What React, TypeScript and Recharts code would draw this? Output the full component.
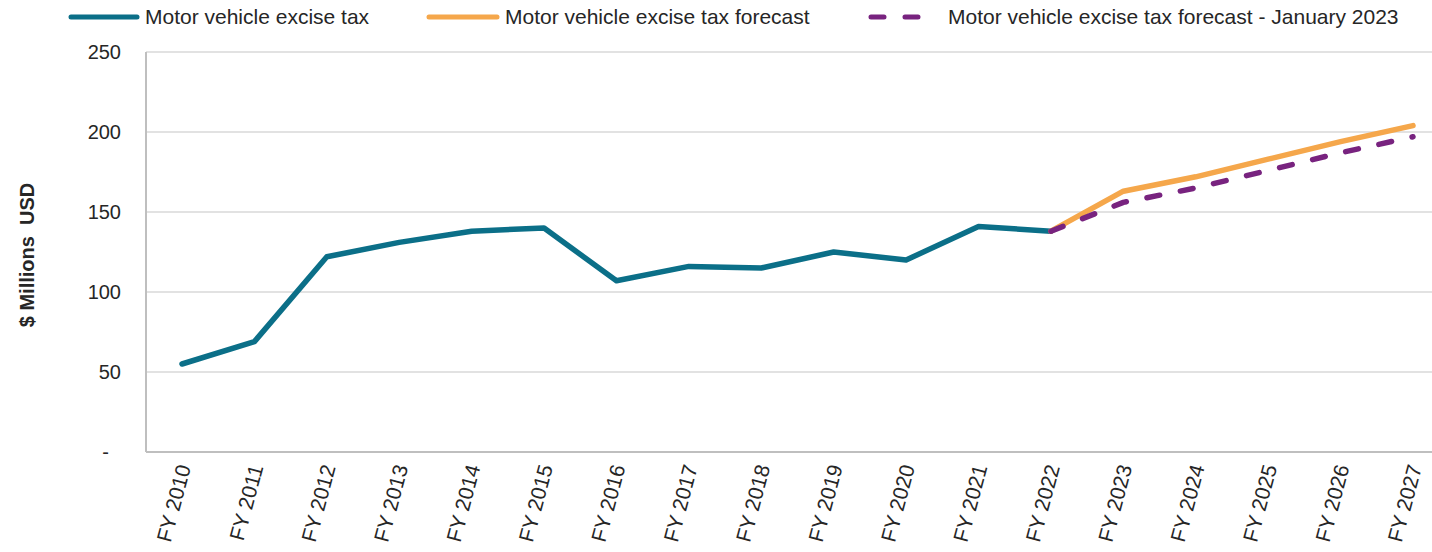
import { LineChart, Line, XAxis, YAxis, CartesianGrid } from 'recharts';

// fiscal years on the category axis
const YEARS = [
  'FY 2010', 'FY 2011', 'FY 2012', 'FY 2013', 'FY 2014', 'FY 2015',
  'FY 2016', 'FY 2017', 'FY 2018', 'FY 2019', 'FY 2020', 'FY 2021',
  'FY 2022', 'FY 2023', 'FY 2024', 'FY 2025', 'FY 2026', 'FY 2027'
];

// $ millions, FY2010 - FY2022
const ACTUAL = [55, 69, 122, 131, 138, 140, 107, 116, 115, 125, 120, 141, 138];

// FY2022 - FY2027
const FORECAST = [138, 163, 172, 183, 194, 204];
const FORECAST_JAN23 = [138, 156, 165, 176, 187, 197];

const Y_TICKS = [0, 50, 100, 150, 200, 250];

const TEAL = '#0b6f88';
const ORANGE = '#f5a74b';
const PURPLE = '#78237f';
const FONT = '"Liberation Sans", Arial, sans-serif';
const TEXT = '#262626';

const forecastStart = YEARS.length - FORECAST.length;

const data = YEARS.map((year, i) => ({
  year,
  actual: i < ACTUAL.length ? ACTUAL[i] : null,
  forecast: i >= forecastStart ? FORECAST[i - forecastStart] : null,
  jan2023: i >= forecastStart ? FORECAST_JAN23[i - forecastStart] : null
}));

function XTick({ x, y, payload }: any) {
  const ax = x + 9;
  const ay = y + 15;
  return (
    <text
      x={ax}
      y={ay}
      transform={`rotate(-75, ${ax}, ${ay})`}
      textAnchor="end"
      fontSize={21}
      fontFamily={FONT}
      fill={TEXT}
    >
      {payload.value}
    </text>
  );
}

function YTick({ x, y, payload }: any) {
  const zero = payload.value === 0;
  return (
    <text
      x={zero ? x - 12 : x}
      y={y}
      dy={7}
      textAnchor="end"
      fontSize={20}
      fontFamily={FONT}
      fill={TEXT}
    >
      {zero ? '-' : payload.value}
    </text>
  );
}

function YLabel({ viewBox }: any) {
  const cx = 27;
  const cy = viewBox.y + viewBox.height / 2 + 3;
  return (
    <text
      x={cx}
      y={cy}
      transform={`rotate(-90, ${cx}, ${cy})`}
      textAnchor="middle"
      dominantBaseline="central"
      fontSize={20}
      fontWeight="bold"
      fontFamily={FONT}
      fill={TEXT}
      style={{ whiteSpace: 'pre' }}
    >
      {'$ Millions  USD'}
    </text>
  );
}

function LegendItem({
  left,
  textLeft,
  color,
  dashed,
  label
}: {
  left: number;
  textLeft: number;
  color: string;
  dashed?: boolean;
  label: string;
}) {
  return (
    <>
      <svg
        width={textLeft - left}
        height={10}
        style={{ position: 'absolute', left, top: 12 }}
      >
        <line
          x1={3}
          y1={5}
          x2={textLeft - left - (dashed ? 22 : 8)}
          y2={5}
          stroke={color}
          strokeWidth={5}
          strokeLinecap="round"
          strokeDasharray={dashed ? '13 21' : undefined}
        />
      </svg>
      <div
        style={{
          position: 'absolute',
          left: textLeft,
          top: 4,
          fontSize: 21,
          lineHeight: '26px',
          fontFamily: FONT,
          color: TEXT,
          whiteSpace: 'nowrap'
        }}
      >
        {label}
      </div>
    </>
  );
}

export default function App() {
  return (
    <div
      style={{
        position: 'absolute',
        left: 0,
        top: 0,
        width: 1432,
        height: 552,
        overflow: 'hidden',
        background: '#fff'
      }}
    >
      <LegendItem left={68} textLeft={145} color={TEAL} label="Motor vehicle excise tax" />
      <LegendItem left={426} textLeft={505} color={ORANGE} label="Motor vehicle excise tax forecast" />
      <LegendItem
        left={868}
        textLeft={948}
        color={PURPLE}
        dashed
        label="Motor vehicle excise tax forecast - January 2023"
      />
      <LineChart
        width={1460}
        height={552}
        data={data}
        margin={{ top: 52, right: 11, bottom: 0, left: 0 }}
      >
        <CartesianGrid vertical={false} stroke="#d9d9d9" strokeWidth={1.5} />
        <XAxis
          dataKey="year"
          interval={0}
          height={100}
          padding={{ left: 36, right: 36 }}
          tickLine={false}
          tickSize={0}
          tickMargin={0}
          axisLine={{ stroke: '#bfbfbf', strokeWidth: 2 }}
          tick={<XTick />}
        />
        <YAxis
          width={146}
          domain={[0, 250]}
          ticks={Y_TICKS}
          interval={0}
          tickLine={false}
          tickSize={0}
          tickMargin={25}
          axisLine={{ stroke: '#bfbfbf', strokeWidth: 2 }}
          tick={<YTick />}
          label={<YLabel />}
        />
        <Line
          dataKey="actual"
          stroke={TEAL}
          strokeWidth={5.5}
          strokeLinejoin="round"
          strokeLinecap="round"
          dot={false}
          activeDot={false}
          isAnimationActive={false}
        />
        <Line
          dataKey="forecast"
          stroke={ORANGE}
          strokeWidth={5.5}
          strokeLinejoin="round"
          strokeLinecap="round"
          dot={false}
          activeDot={false}
          isAnimationActive={false}
        />
        <Line
          dataKey="jan2023"
          stroke={PURPLE}
          strokeWidth={5.5}
          strokeDasharray="13 21"
          strokeLinejoin="round"
          strokeLinecap="round"
          dot={false}
          activeDot={false}
          isAnimationActive={false}
        />
      </LineChart>
    </div>
  );
}
